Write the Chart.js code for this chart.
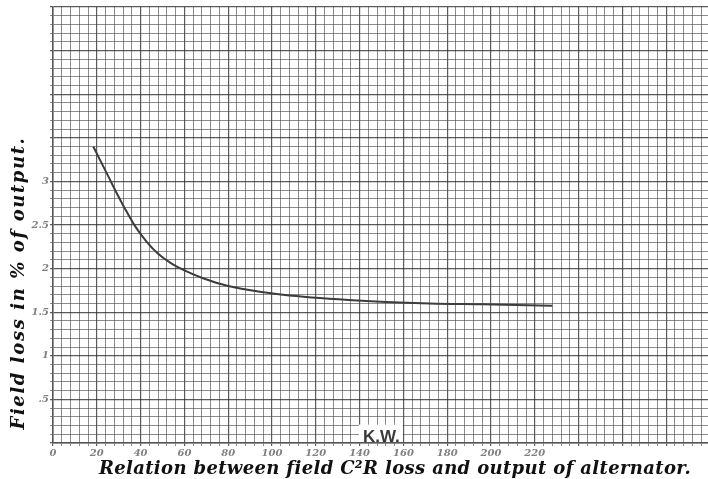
<!DOCTYPE html>
<html><head><meta charset="utf-8">
<script src="https://cdn.jsdelivr.net/npm/chart.js@4.4.1/dist/chart.umd.min.js"></script>
<style>html,body{margin:0;padding:0;background:#fff;overflow:hidden;width:708px;height:479px}canvas{display:block}</style>
</head><body>
<canvas id="c" width="711" height="479"></canvas>
<script>
// Data
const kwOutput     = [18.4, 21.4, 25.2, 29, 32.8, 37.4, 42.7, 48, 54, 60, 68.5, 80, 91, 105, 135, 172, 196, 228];
const fieldLossPct = [3.40, 3.25, 3.06, 2.87, 2.69, 2.49, 2.31, 2.17, 2.06, 1.98, 1.89, 1.80, 1.75, 1.70, 1.64, 1.60, 1.59, 1.575];

// Tick labels
const xTickValues = [0, 20, 40, 60, 80, 100, 120, 140, 160, 180, 200, 220];
const xTickLabels = ['0', '20', '40', '60', '80', '100', '120', '140', '160', '180', '200', '220'];
const yTickValues = [0.5, 1, 1.5, 2, 2.5, 3];
const yTickLabels = ['.5', '1', '1.5', '2', '2.5', '3'];

// Texts
const xTitle = 'Relation between field C\u00B2R loss and output of alternator.';
const yTitle = 'Field loss in % of output.';
const unitLabel = 'K.W.';

// Graph-paper ruling
const X_MIN = 0, X_MAX = 300, X_STEP = 4, X_MAJOR = 20;
const Y_MIN = 0, Y_MAX = 5, Y_STEP = 0.1, Y_MAJOR = 0.5;

function ruling(min, max, step) {
  const out = [];
  const n = Math.round((max - min) / step);
  for (let i = 0; i <= n; i++) out.push({ value: +(min + i * step).toFixed(4) });
  return out;
}
function isMajor(v, major) {
  const r = v / major;
  return Math.abs(r - Math.round(r)) < 1e-6;
}
function labelFor(v, values, labels) {
  for (let i = 0; i < values.length; i++) if (Math.abs(values[i] - v) < 1e-6) return labels[i];
  return '';
}

const tickFont = { family: '"DejaVu Serif", serif', size: 10, style: 'italic', weight: 'bold' };

const textPlugin = {
  id: 'paperTexts',
  afterDraw(chart) {
    const ctx = chart.ctx;
    const x = chart.scales.x, y = chart.scales.y;
    ctx.save();
    // K.W. unit label on a white patch
    const kx = x.getPixelForValue(141.5);
    const y0 = y.getPixelForValue(0), yTop = y.getPixelForValue(0.21);
    ctx.font = 'bold 17px "Liberation Sans", Arial, sans-serif';
    const w = ctx.measureText(unitLabel).width;
    ctx.fillStyle = '#fff';
    ctx.fillRect(kx - 4, yTop, w + 7, y0 - yTop - 1);
    ctx.fillStyle = '#3a3a3a';
    ctx.textAlign = 'left';
    ctx.textBaseline = 'alphabetic';
    ctx.fillText(unitLabel, kx, y0 - 1.5);
    // X title
    ctx.fillStyle = '#111';
    ctx.font = 'italic bold 18px "DejaVu Serif", serif';
    ctx.textAlign = 'center';
    ctx.textBaseline = 'middle';
    if ('letterSpacing' in ctx) ctx.letterSpacing = '0.35px';
    ctx.fillText(xTitle, 395, 469);
    // Y title
    if ('letterSpacing' in ctx) ctx.letterSpacing = '1.6px';
    ctx.translate(19, 283);
    ctx.rotate(-Math.PI / 2);
    ctx.fillText(yTitle, 0, 0);
    ctx.restore();
  }
};

new Chart(document.getElementById('c'), {
  type: 'line',
  data: {
    datasets: [{
      data: kwOutput.map((k, i) => ({ x: k, y: fieldLossPct[i] })),
      borderColor: '#3c3c3c',
      borderWidth: 2,
      pointRadius: 0,
      fill: false,
      cubicInterpolationMode: 'monotone'
    }]
  },
  options: {
    responsive: false,
    animation: false,
    events: [],
    layout: { padding: { top: 5, right: 0, left: 0, bottom: 0 } },
    plugins: { legend: { display: false }, tooltip: { enabled: false }, title: { display: false } },
    scales: {
      x: {
        type: 'linear', min: X_MIN, max: X_MAX,
        afterBuildTicks: s => { s.ticks = ruling(X_MIN, X_MAX, X_STEP); },
        afterFit: s => { s.height = 36; },
        ticks: {
          autoSkip: false, maxRotation: 0, minRotation: 0, padding: 1,
          color: '#808080', font: tickFont,
          callback: v => labelFor(v, xTickValues, xTickLabels)
        },
        grid: {
          drawTicks: true, tickLength: 3,
          color: c => isMajor(c.tick.value, X_MAJOR) ? 'rgba(45,45,45,0.78)' : 'rgba(70,70,70,0.62)',
          lineWidth: c => isMajor(c.tick.value, X_MAJOR) ? 1.2 : 1
        },
        border: { display: true, color: '#555', width: 1.5 }
      },
      y: {
        type: 'linear', min: Y_MIN, max: Y_MAX,
        afterBuildTicks: s => { s.ticks = ruling(Y_MIN, Y_MAX, Y_STEP); },
        afterFit: s => { s.width = 53; },
        ticks: {
          autoSkip: false, padding: 1,
          color: '#808080', font: tickFont,
          callback: v => labelFor(v, yTickValues, yTickLabels)
        },
        grid: {
          drawTicks: true, tickLength: 3,
          color: c => isMajor(c.tick.value, Y_MAJOR) ? 'rgba(45,45,45,0.78)' : 'rgba(70,70,70,0.62)',
          lineWidth: c => isMajor(c.tick.value, Y_MAJOR) ? 1.2 : 1
        },
        border: { display: true, color: '#555', width: 1.5 }
      }
    }
  },
  plugins: [textPlugin]
});
</script>
</body></html>
